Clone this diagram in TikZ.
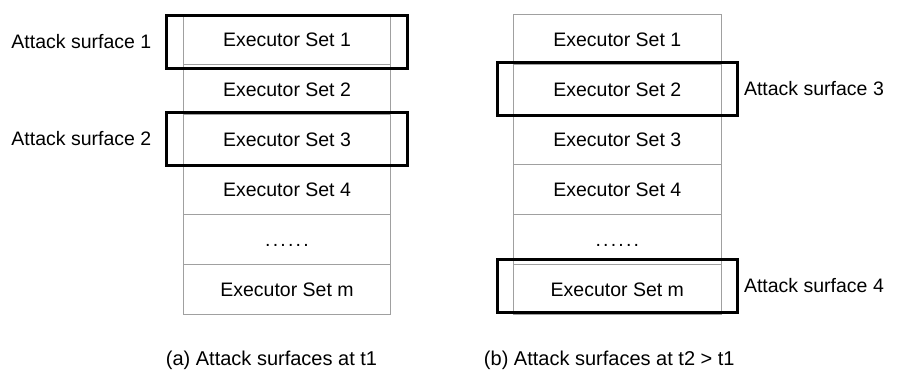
\documentclass[tikz,border=0pt]{standalone}
\usepackage{fontspec}
\setmainfont{Liberation Sans}
\usetikzlibrary{positioning, fit}
\definecolor{cellline}{RGB}{160,160,160}

% spaced row of dots for the elided sets
\newcommand{\setdots}{.\kern2.2pt.\kern2.2pt.\kern2.2pt.\kern2.2pt.\kern2.2pt.}

\tikzset{
    execset/.style={
        draw=cellline,
        line width=1pt,
        rectangle,
        minimum width=207.5pt,
        minimum height=50pt,
        outer sep=0pt,
        text height=14pt,
        text depth=0pt,
    },
    surface/.style={
        draw,
        rectangle,
        line width=3pt,
        inner xsep=16.3pt,
        inner ysep=1.5pt,
    },
    surfacelabel/.style={
        inner sep=0pt,
    },
}

\begin{document}
\begin{tikzpicture}[font=\fontsize{19.5}{23}\selectfont, node distance=0pt]
\useasboundingbox (0pt,0pt) rectangle (898pt,-372pt);

% --- (a) executor sets at t1 ---
\node [execset] (aone) at (287pt,-39pt) {Executor Set 1};
\node [execset, below=of aone] (atwo) {Executor Set 2};
\node [execset, below=of atwo] (athree) {Executor Set 3};
\node [execset, below=of athree] (afour) {Executor Set 4};
\node [execset, below=of afour] (adots) {\setdots};
\node [execset, below=of adots] (am) {Executor Set m};

% --- (b) executor sets at t2 ---
\node [execset] (bone) at (617.3pt,-39pt) {Executor Set 1};
\node [execset, below=of bone] (btwo) {Executor Set 2};
\node [execset, below=of btwo] (bthree) {Executor Set 3};
\node [execset, below=of bthree] (bfour) {Executor Set 4};
\node [execset, below=of bfour] (bdots) {\setdots};
\node [execset, below=of bdots] (bm) {Executor Set m};

% --- attack surfaces ---
\node [
    surface,
    fit=(aone),
    yshift=-3pt,
] (surfone) {};
\node [
    surface,
    fit=(athree),
] (surftwo) {};
\node [
    surface,
    fit=(btwo),
] (surfthree) {};
\node [
    surface,
    fit=(bm),
    yshift=3pt,
] (surffour) {};

\node [surfacelabel, left=14pt of surfone] (labone) {Attack surface 1};
\node [surfacelabel, left=14pt of surftwo] (labtwo) {Attack surface 2};
\node [surfacelabel, right=5pt of surfthree] (labthree) {Attack surface 3};
\node [surfacelabel, right=5pt of surffour] (labfour) {Attack surface 4};

% --- captions ---
\node [
    inner sep=0pt,
    below=37pt of am,
    xshift=-15.5pt,
    font=\fontsize{20}{24}\selectfont,
] (capa) {(a) Attack surfaces at t1};
\node [
    inner sep=0pt,
    below=37pt of bm,
    xshift=-8pt,
    font=\fontsize{20}{24}\selectfont,
] (capb) {(b) Attack surfaces at t2 > t1};

\end{tikzpicture}
\end{document}
